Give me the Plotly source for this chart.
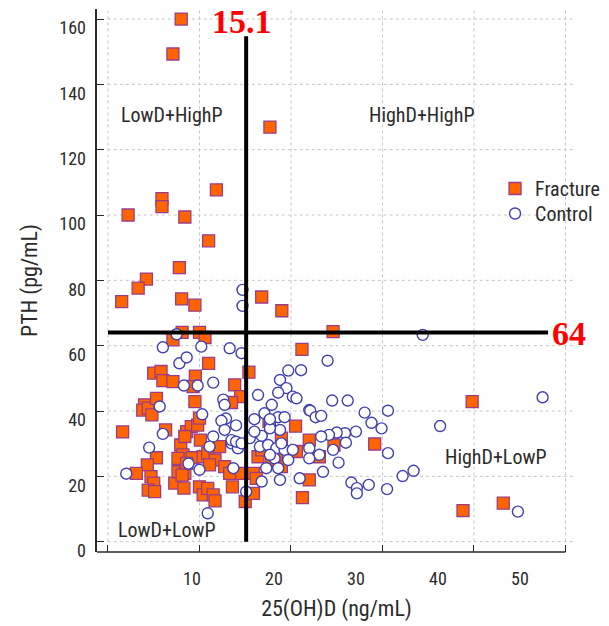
import plotly.graph_objects as go

# ---------------- data ----------------
fracture_x = [8.0, 7.1, 17.7, 11.85, 5.9, 5.9, 2.2, 8.4, 11.0, 7.8, 4.2, 3.3, 1.5, 8.05, 9.5, 16.8, 19.0,
              8.1, 10.0, 7.1, 10.6, 24.6,
              21.2, 11.0, 15.4, 5.0, 5.8, 6.0, 7.1, 9.55, 9.3, 13.85, 14.5, 13.5, 9.5, 4.0, 3.8, 4.4, 4.8, 5.3, 39.8,
              1.6, 6.3, 8.6, 9.1, 9.8, 10.0, 17.6, 20.5, 22.0, 24.7, 29.15, 23.1, 22.0, 21.25, 38.8, 43.2,
              5.3, 4.3, 3.1, 4.7, 5.0, 4.4, 5.1, 7.3, 8.3, 7.65, 8.4, 7.95, 8.2, 7.65, 9.2, 8.4, 10.1, 10.4, 10.0, 10.4, 8.6, 8.1,
              12.2, 10.9, 11.7, 11.1, 12.75, 13.3, 10.9, 11.5, 11.7, 13.6, 14.6, 15.0, 15.9, 15.9, 16.2, 16.4, 16.8, 17.9, 18.4,
              18.95, 17.9, 20.6, 18.95]
fracture_y = [160, 149.3, 126.9, 107.7, 105, 102.6, 100, 99.4, 92.1, 83.9, 80.4, 77.6, 73.5, 74.3, 72.4, 74.9, 70.7,
              64.1, 64.1, 61.8, 62.5, 64.3,
              58.9, 54.6, 51.9, 51.6, 52.1, 49.3, 49.0, 50.7, 47.5, 48.0, 44.4, 42.6, 42.9, 41.9, 40.3, 40.9, 38.8, 43.9, 42.9,
              33.6, 34.2, 33.7, 35.2, 35.7, 37.8, 36.8, 35.4, 31.1, 29.6, 29.9, 26.0, 18.9, 13.5, 9.5, 11.8,
              25.7, 23.5, 20.9, 19.9, 17.9, 15.8, 15.3, 17.9, 16.4, 21.4, 20.9, 29.6, 26.6, 25.5, 25.7, 32.2, 31.1, 26.0, 16.8, 14.3, 24.0, 20.4,
              29.1, 27.1, 25.0, 23.5, 23.0, 20.9, 16.3, 14.3, 12.5, 16.8, 20.9, 12.3, 14.8, 20.9, 19.4, 26.0, 28.1, 27.1, 26.0,
              23.0, 25.0, 27.6, 31.7]

control_x = [14.7, 14.7, 34.4, 7.5, 6.0, 10.2, 13.3, 14.6, 7.8, 8.6, 8.3, 9.8, 11.5, 24.0, 21.1, 19.7,
             18.8, 19.5, 18.6, 20.2, 20.6, 16.4, 17.9, 17.1, 16.0, 18.6, 19.3, 22.0, 12.6, 12.75, 12.9, 12.4, 14.0, 10.3,
             17.7, 18.8, 24.5, 26.2, 22.1, 22.7, 23.3, 28.05, 30.6, 28.8, 29.9, 27.1, 25.9, 25.0, 24.15, 23.3, 26.0, 24.6,
             23.1, 22.0, 30.6, 25.2, 23.5, 26.6, 27.2, 27.2, 28.5, 30.5, 32.2, 33.4, 36.3, 47.5, 44.8,
             5.65, 6.0, 4.5, 2.0, 11.5, 11.1, 13.5, 14.2, 13.7, 10.0, 8.8, 10.9, 15.1, 16.8, 16.8, 16.6,
             18.8, 17.3, 17.7, 17.5, 18.4, 19.3, 20.2, 18.2, 17.7, 19.7, 18.6, 20.95, 22.0, 13.5, 14.0, 14.6, 15.5, 16.0,
             12.75, 18.95, 17.7]
control_y = [77.1, 72.2, 63.3, 63.5, 59.5, 59.7, 59.2, 57.7, 54.6, 56.4, 47.8, 47.8, 48.7, 55.4, 52.5, 52.4,
             49.5, 47.0, 45.6, 44.4, 43.9, 44.9, 41.9, 39.3, 37.5, 38.1, 38.1, 40.3, 43.5, 41.9, 37.7, 37.0, 35.6, 39.0,
             35.7, 34.2, 43.2, 43.2, 40.1, 38.1, 38.5, 39.5, 40.1, 36.4, 34.7, 33.7, 33.2, 33.4, 32.7, 32.2, 30.3, 28.1,
             26.6, 28.6, 27.1, 24.2, 21.4, 18.1, 16.4, 14.8, 17.4, 16.1, 20.1, 21.7, 35.4, 44.2, 9.2,
             41.4, 33.0, 28.8, 20.8, 32.2, 29.1, 30.1, 28.6, 22.5, 22.0, 23.9, 8.7, 15.3, 32.4, 18.4, 29.1,
             18.9, 22.5, 34.7, 29.6, 28.6, 28.1, 28.1, 25.5, 26.6, 25.0, 22.5, 19.4, 25.5, 31.1, 30.6, 30.1, 31.7, 33.7,
             34.2, 30.1, 37.5]

x_grid = [0, 10, 20, 30, 40, 50]
y_grid = [0, 20, 40, 60, 80, 100, 120, 140, 160]
x_tick_values = [10, 20, 30, 40, 50]
x_tick_labels = ["10", "20", "30", "40", "50"]
y_tick_labels = ["0", "20", "40", "60", "80", "100", "120", "140", "160"]

vitd_cut = 15.1
pth_cut = 64
quadrants = ["LowD+HighP", "HighD+HighP", "HighD+LowP", "LowD+LowP"]
quad_x = [6.96, 34.3, 42.4, 6.5]
quad_y = [130.7, 130.7, 26.0, 3.6]

# ---------------- styles ----------------
XR = [-1.2, 51.15]
YR = [-3.16, 163.07]
X2R = [-1.585, 56.83]      # scale on which the x tick labels were printed
Y_LABEL_SHIFT = 2.8
TXT = "Liberation Sans Narrow, Roboto Condensed, Roboto, Arial, sans-serif"
INK = "#2b2b2b"
# the page body has an 8px margin, so the figure is sized to fit the 609x626 window
FIG_W, FIG_H = 601, 618

fig = go.Figure()

fig.add_trace(go.Scatter(
    x=fracture_x, y=fracture_y, mode="markers", name="Fracture", legend="legend",
    marker=dict(symbol="square", size=12, color="#ff6400",
                line=dict(color="#9a3d86", width=1.3)),
))
fig.add_trace(go.Scatter(
    x=control_x, y=control_y, mode="markers", name="Control", legend="legend2",
    marker=dict(symbol="circle", size=11, color="white",
                line=dict(color="#4040b0", width=1.4)),
))
# empty trace anchoring the label axes
fig.add_trace(go.Scatter(x=[None], y=[None], xaxis="x2", yaxis="y2",
                         showlegend=False, hoverinfo="skip"))

shapes = []
for xv in x_grid:
    shapes.append(dict(type="line", xref="x", yref="paper", x0=xv, x1=xv, y0=0.0195, y1=1,
                       line=dict(color="#c6c6c6", width=1, dash="dot"), layer="below"))
for yv in y_grid:
    shapes.append(dict(type="line", xref="paper", yref="y", x0=0.0225, x1=1, y0=yv, y1=yv,
                       line=dict(color="#c6c6c6", width=1, dash="dot"), layer="below"))
# bottom axis line (ends at 50)
shapes.append(dict(type="line", xref="x", yref="paper", x0=XR[0], x1=x_grid[-1], y0=0, y1=0,
                   line=dict(color=INK, width=1.5)))
# cut-off lines
shapes.append(dict(type="line", xref="x", yref="y", x0=vitd_cut, x1=vitd_cut, y0=0, y1=154.7,
                   line=dict(color="black", width=4)))
shapes.append(dict(type="line", xref="x", yref="y", x0=0, x1=48.1, y0=pth_cut, y1=pth_cut,
                   line=dict(color="black", width=4)))

annotations = []
for t, qx, qy in zip(quadrants, quad_x, quad_y):
    annotations.append(dict(x=qx, y=qy, xref="x", yref="y", text=t, showarrow=False,
                            font=dict(family=TXT, size=20, color=INK)))
annotations.append(dict(x=14.6, y=159.3, xref="x", yref="y", text=str(vitd_cut), showarrow=False,
                        font=dict(family="Liberation Serif, Times New Roman, serif", size=34,
                                  color="#ff0000", weight="bold")))
annotations.append(dict(x=50.4, y=63.6, xref="x", yref="y", text=str(pth_cut), showarrow=False,
                        font=dict(family="Liberation Serif, Times New Roman, serif", size=34,
                                  color="#ff0000", weight="bold")))

legend_style = dict(xanchor="left", yanchor="top", borderwidth=0, bgcolor="rgba(0,0,0,0)",
                    font=dict(family=TXT, size=20, color=INK))

fig.update_layout(
    template="none",
    width=FIG_W, height=FIG_H,
    margin=dict(l=89, r=33, t=1, b=74, autoexpand=False),
    paper_bgcolor="white", plot_bgcolor="white",
    showlegend=True,
    legend=dict(x=0.831, y=0.7053, **legend_style),
    legend2=dict(x=0.831, y=0.6593, **legend_style),
    xaxis=dict(range=XR, tickvals=x_grid, showticklabels=False, ticks="inside", ticklen=7,
               tickcolor=INK, tickwidth=1.3, showgrid=False, zeroline=False, showline=False,
               automargin=False,
               title=dict(text="25(OH)D (ng/mL)", standoff=48,
                          font=dict(family=TXT, size=22, color=INK))),
    yaxis=dict(range=YR, tickvals=y_grid, showticklabels=False, ticks="inside", ticklen=7,
               tickcolor=INK, tickwidth=1.3, showgrid=False, zeroline=False,
               showline=True, linecolor=INK, linewidth=1.5, automargin=False,
               title=dict(text="PTH (pg/mL)", standoff=52,
                          font=dict(family=TXT, size=22, color=INK))),
    xaxis2=dict(overlaying="x", anchor="y2", side="bottom", range=X2R,
                tickvals=x_tick_values, ticktext=x_tick_labels, ticks="", showgrid=False,
                zeroline=False, showline=False, ticklabelstandoff=14, automargin=False,
                tickfont=dict(family=TXT, size=18, color=INK)),
    yaxis2=dict(overlaying="y", anchor="x2", side="left",
                range=[YR[0] + Y_LABEL_SHIFT, YR[1] + Y_LABEL_SHIFT],
                tickvals=y_grid, ticktext=y_tick_labels, ticks="", showgrid=False,
                zeroline=False, showline=False, ticklabelstandoff=10, automargin=False,
                tickfont=dict(family=TXT, size=18, color=INK)),
    shapes=shapes,
    annotations=annotations,
)

fig.write_html("out.html")
